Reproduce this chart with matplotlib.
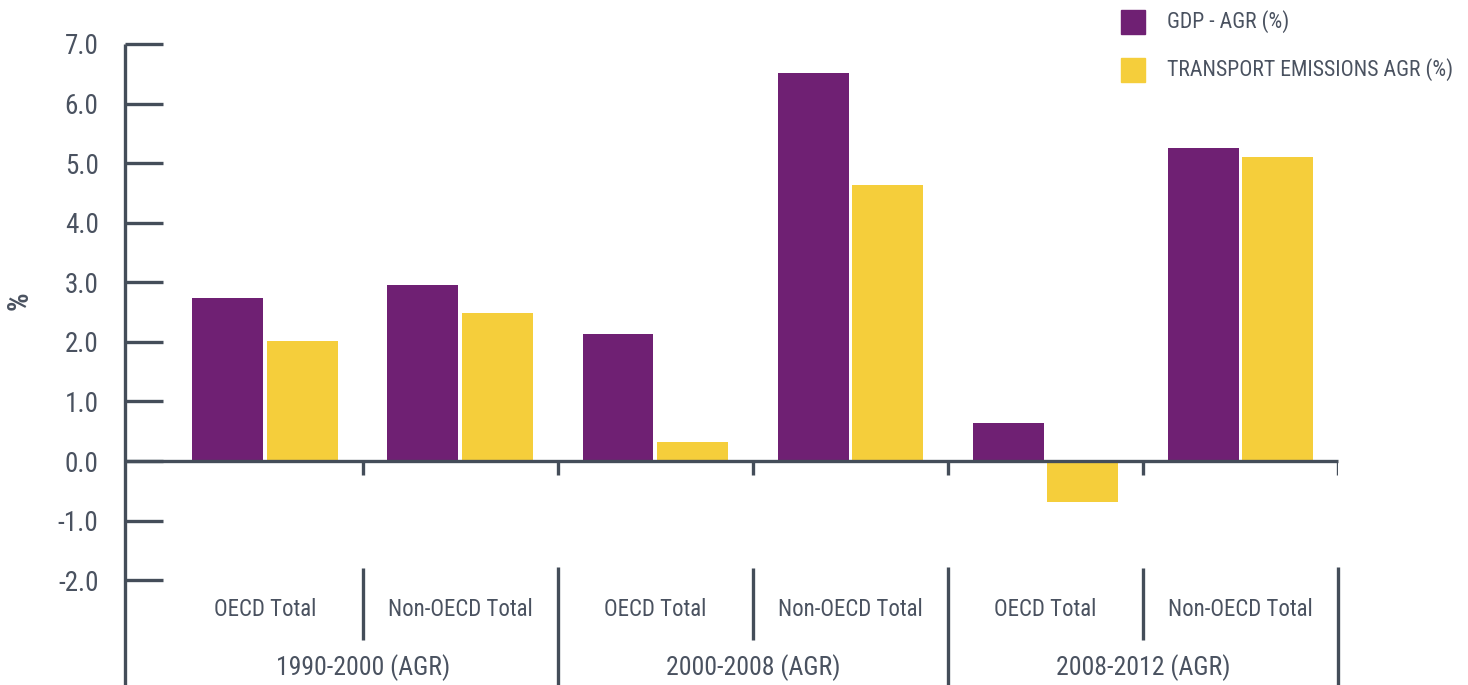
import matplotlib
matplotlib.use("Agg")
import matplotlib.pyplot as plt
from matplotlib.patches import Rectangle
from matplotlib import font_manager as fm
import numpy as np

categories = ["OECD Total", "Non-OECD Total", "OECD Total", "Non-OECD Total", "OECD Total", "Non-OECD Total"]
groups = ["1990-2000 (AGR)", "2000-2008 (AGR)", "2008-2012 (AGR)"]
gdp_agr = [2.74, 2.95, 2.13, 6.51, 0.64, 5.25]
transport_agr = [2.01, 2.48, 0.32, 4.63, -0.69, 5.10]
series_names = ["GDP - AGR (%)", "TRANSPORT EMISSIONS AGR (%)"]
yticks = [-2, -1, 0, 1, 2, 3, 4, 5, 6, 7]

PURPLE = "#6F2073"
YELLOW = "#F5CE3B"
AXC = "#444D59"
TXT = "#4A5260"

# pick a condensed font if available
def pick_font(bold=False):
    cands = []
    for f in fm.fontManager.ttflist:
        st = str(f.stretch).lower()
        nm = f.name.lower()
        fn = f.fname.lower()
        cond = ("condensed" in st or "narrow" in nm or "condensed" in nm
                or "condensed" in fn or "narrow" in fn or st in ("semi-condensed", "extra-condensed"))
        if not cond:
            continue
        w = f.weight if isinstance(f.weight, int) else {"normal": 400, "regular": 400, "bold": 700}.get(str(f.weight), 400)
        if "italic" in fn or "oblique" in fn or f.style != "normal":
            continue
        target = 700 if bold else 400
        pref = 9
        for i, key in enumerate(["roboto", "open", "liberation", "noto", "dejavu"]):
            if key in nm or key in fn:
                pref = i
                break
        cands.append((abs(w - target), pref, f.fname))
    if cands:
        cands.sort()
        return cands[0][2]
    return None

reg = pick_font(False)
bld = pick_font(True)

def fp(size, bold=False):
    path = bld if bold else reg
    if path:
        return fm.FontProperties(fname=path, size=size)
    return fm.FontProperties(family="DejaVu Sans", size=size, weight="bold" if bold else "normal")

W, H = 1468, 685
fig = plt.figure(figsize=(W / 100, H / 100), dpi=100)
ax = fig.add_axes([125 / W, 0, (1338 - 125) / W, 1 - 44 / H])

x = np.arange(len(categories))
bw = 0.364
off = 0.192
ax.bar(x - off, gdp_agr, width=bw, color=PURPLE, zorder=2)
ax.bar(x + off, transport_agr, width=bw, color=YELLOW, zorder=2)

ax.set_xlim(-0.72, 5.5)
ax.set_ylim(-3.76, 7.0)

for s in ["top", "right", "bottom"]:
    ax.spines[s].set_visible(False)
ax.spines["left"].set_color(AXC)
ax.spines["left"].set_linewidth(2.4)
ax.spines["left"].set_capstyle("butt")

ax.set_yticks(yticks)
ax.set_yticklabels([f"{v:.1f}" for v in yticks])
ax.tick_params(axis="y", direction="in", length=27, width=2.4, color=AXC,
               labelcolor=TXT, pad=19)
for lab in ax.get_yticklabels():
    lab.set_fontproperties(fp(19.5))
ax.set_xticks([])

ax.plot([-0.72, 5.5], [0, 0], color=AXC, lw=2.4, solid_capstyle="butt", zorder=3, clip_on=False)
bounds = np.arange(len(categories)) + 0.5
for b in bounds:
    ax.plot([b, b], [0, -0.23], color=AXC, lw=2.4, solid_capstyle="butt", zorder=3)
for i, b in enumerate(bounds):
    if i % 2 == 0:
        ax.plot([b, b], [-1.80, -3.0], color=AXC, lw=2.4, solid_capstyle="butt", clip_on=False)
    else:
        ax.plot([b, b], [-1.78, -3.76], color=AXC, lw=2.4, solid_capstyle="butt", clip_on=False)

for xi, c in zip(x, categories):
    ax.text(xi, -2.49, c, ha="center", va="center", color=TXT, fontproperties=fp(16.5))
for gi, g in enumerate(groups):
    ax.text(2 * gi + 0.5, -3.46, g, ha="center", va="center", color=TXT, fontproperties=fp(18.5))

fig.text(20 / W, 1 - 301 / H, "%", rotation=90, ha="center", va="center",
         color=TXT, fontproperties=fp(21, bold=True))

for i, (name, col) in enumerate(zip(series_names, [PURPLE, YELLOW])):
    yc = 22 + i * 48
    fig.add_artist(Rectangle((1121 / W, 1 - (yc + 12) / H), 24 / W, 24 / H,
                             transform=fig.transFigure, color=col))
    fig.text(1167 / W, 1 - yc / H, name, ha="left", va="center", color=TXT, fontproperties=fp(15.7))

fig.savefig("out.png", dpi=100)
